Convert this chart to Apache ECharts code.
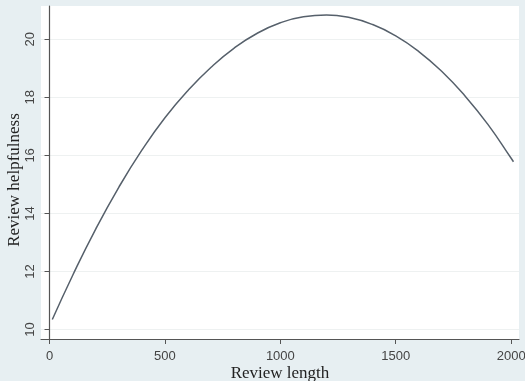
<!DOCTYPE html>
<html>
<head>
<meta charset="utf-8">
<script src="https://cdn.jsdelivr.net/npm/echarts@6/dist/echarts.min.js"></script>
<style>
html,body{margin:0;padding:0;background:#e7eff2;}
#c{width:525px;height:381px;}
</style>
</head>
<body>
<div id="c"></div>
<script>
const reviewLength = [12, 100, 200, 300, 400, 500, 600, 700, 800, 900, 1000, 1100, 1200, 1300, 1400, 1500, 1600, 1700, 1800, 1900, 2000, 2010];
const helpfulness = [10.34, 11.86, 13.46, 14.9, 16.18, 17.3, 18.24, 19.04, 19.7, 20.21, 20.57, 20.78, 20.84, 20.75, 20.51, 20.12, 19.58, 18.89, 18.05, 17.06, 15.9, 15.78];
const xTicks = [0, 500, 1000, 1500, 2000];
const yTicks = [10, 12, 14, 16, 18, 20];

const chart = echarts.init(document.getElementById('c'), null, {renderer: 'canvas'});
chart.setOption({
  backgroundColor: '#e7eff2',
  animation: false,
  grid: {left: 41, right: 6, top: 6, bottom: 42, containLabel: false, outerBoundsMode: 'none',
         show: true, backgroundColor: '#ffffff', borderWidth: 0},
  xAxis: {
    type: 'value', min: -37, max: 2034,
    name: 'Review length', nameLocation: 'middle', nameGap: 26, nameMoveOverlap: false,
    nameTextStyle: {fontFamily: 'Liberation Serif', fontSize: 17, color: '#222'},
    axisLine: {show: true, lineStyle: {color: '#555', width: 1.2}},
    axisTick: {show: true, length: 5, lineStyle: {color: '#555'}, customValues: xTicks},
    axisLabel: {customValues: xTicks, formatter: v => String(v), fontFamily: 'Liberation Sans', fontSize: 13, color: '#444', margin: 11},
    splitLine: {show: false}
  },
  yAxis: {
    type: 'value', min: 9.67, max: 21.15,
    name: 'Review helpfulness', nameLocation: 'middle', nameGap: 18, nameRotate: 90, nameMoveOverlap: false,
    nameTextStyle: {fontFamily: 'Liberation Serif', fontSize: 17, color: '#222', padding: [0, 15, 0, 0]},
    axisLine: {show: true, lineStyle: {color: '#555', width: 1.2}},
    axisTick: {show: true, length: 5, lineStyle: {color: '#555'}, customValues: yTicks},
    axisLabel: {customValues: yTicks, formatter: v => String(v), rotate: 90, fontFamily: 'Liberation Sans', fontSize: 13, color: '#444', margin: 4},
    splitLine: {show: true, lineStyle: {color: '#eef1f1', width: 1}}
  },
  series: [{
    type: 'line',
    data: reviewLength.map((x, i) => [x, helpfulness[i]]),
    smooth: true,
    showSymbol: false,
    lineStyle: {color: '#56606b', width: 1.5}
  }]
});
</script>
</body>
</html>
